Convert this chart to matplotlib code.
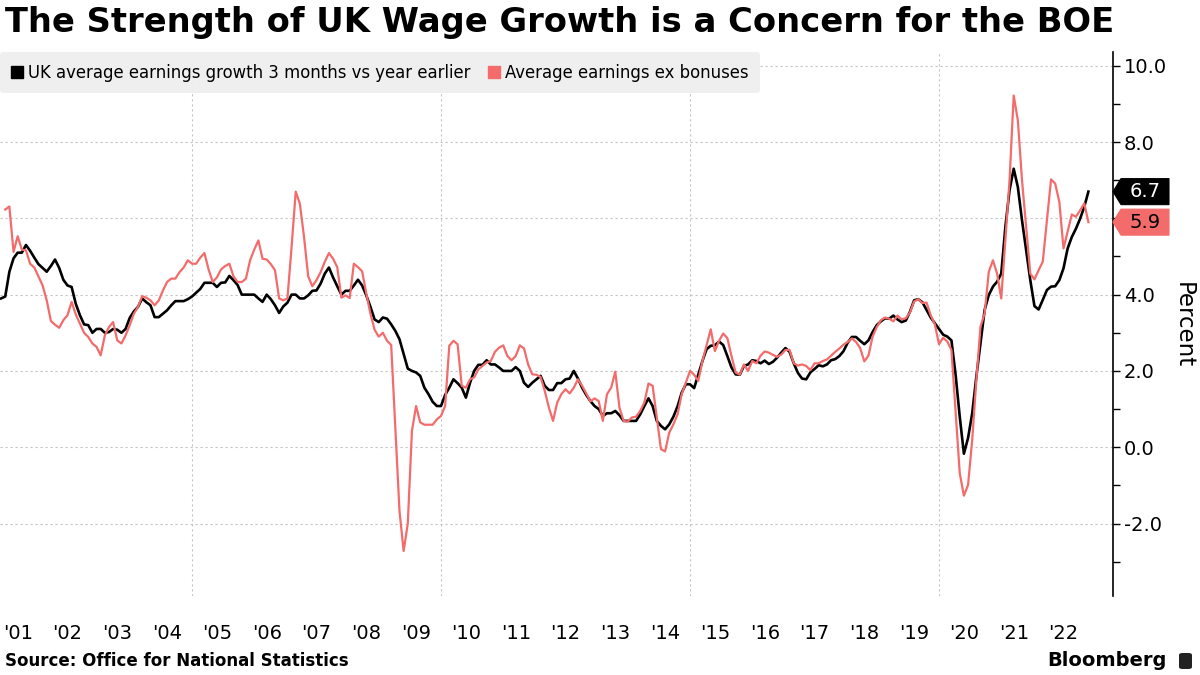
import matplotlib
matplotlib.use("Agg")
import matplotlib.pyplot as plt
import numpy as np
import pandas as pd
from matplotlib.lines import Line2D
from matplotlib.patches import Polygon, FancyBboxPatch

# monthly readings (month-end), black series starts Feb 2001, red series Mar 2001
black_vals = [
    3.9, 3.95, 4.6, 4.95, 5.1, 5.1, 5.3, 5.15, 4.97, 4.8, 4.7,                    # 2001
    4.6, 4.75, 4.92, 4.7, 4.39, 4.24, 4.2, 3.76, 3.46, 3.22, 3.2, 3.0,            # 2002
    3.1, 3.1, 3.0, 3.02, 3.1, 3.08, 3.0, 3.1, 3.39, 3.56, 3.68, 3.9,              # 2003
    3.8, 3.72, 3.41, 3.41, 3.5, 3.59, 3.72, 3.83, 3.83, 3.83, 3.88, 3.95,         # 2004
    4.05, 4.15, 4.31, 4.31, 4.31, 4.2, 4.31, 4.32, 4.49, 4.38, 4.25, 4.0,         # 2005
    4.0, 4.0, 4.0, 3.9, 3.81, 4.0, 3.88, 3.72, 3.52, 3.69, 3.79, 4.0,             # 2006
    4.0, 3.9, 3.9, 3.98, 4.1, 4.11, 4.29, 4.55, 4.71, 4.45, 4.22, 4.0,            # 2007
    4.1, 4.1, 4.24, 4.39, 4.24, 3.98, 3.68, 3.35, 3.28, 3.4, 3.37, 3.22,          # 2008
    3.05, 2.83, 2.45, 2.06, 2.0, 1.96, 1.87, 1.56, 1.39, 1.19, 1.08, 1.08,        # 2009
    1.37, 1.56, 1.78, 1.68, 1.56, 1.3, 1.69, 2.0, 2.16, 2.16, 2.28, 2.17,         # 2010
    2.17, 2.09, 2.0, 2.0, 2.0, 2.1, 2.0, 1.69, 1.58, 1.69, 1.78, 1.87,            # 2011
    1.61, 1.5, 1.5, 1.68, 1.68, 1.78, 1.8, 2.0, 1.8, 1.56, 1.37, 1.21,            # 2012
    1.08, 1.0, 0.82, 0.89, 0.89, 0.95, 0.84, 0.69, 0.69, 0.69, 0.69, 0.86,        # 2013
    1.08, 1.28, 1.08, 0.69, 0.56, 0.47, 0.6, 0.8, 1.07, 1.43, 1.65, 1.65,         # 2014
    1.55, 1.91, 2.26, 2.57, 2.66, 2.67, 2.77, 2.68, 2.39, 2.09, 1.91, 1.9,        # 2015
    2.13, 2.17, 2.28, 2.26, 2.2, 2.27, 2.18, 2.24, 2.35, 2.48, 2.6, 2.5,          # 2016
    2.2, 1.95, 1.8, 1.78, 1.96, 2.05, 2.15, 2.12, 2.17, 2.28, 2.31, 2.39,         # 2017
    2.52, 2.74, 2.89, 2.89, 2.79, 2.7, 2.8, 3.02, 3.2, 3.3, 3.38, 3.37,           # 2018
    3.45, 3.35, 3.28, 3.32, 3.55, 3.85, 3.88, 3.8, 3.6, 3.4, 3.25, 3.1,           # 2019
    2.95, 2.9, 2.8, 1.9, 0.8, -0.17, 0.24, 0.89, 1.85, 2.72, 3.6, 3.99,           # 2020
    4.21, 4.34, 4.55, 5.78, 6.74, 7.3, 6.82, 5.95, 5.17, 4.38, 3.7, 3.61,         # 2021
    3.86, 4.12, 4.21, 4.22, 4.38, 4.69, 5.21, 5.51, 5.73, 5.99, 6.3, 6.7,         # 2022
]
red_vals = [
    6.23, 6.31, 5.12, 5.53, 5.18, 5.16, 4.81, 4.71, 4.48, 4.24,                  # 2001
    3.85, 3.31, 3.21, 3.13, 3.33, 3.46, 3.81, 3.48, 3.24, 3.0, 2.89, 2.72,        # 2002
    2.63, 2.41, 2.93, 3.15, 3.28, 2.8, 2.72, 2.93, 3.2, 3.5, 3.68, 3.96,          # 2003
    3.92, 3.85, 3.72, 3.85, 4.11, 4.33, 4.42, 4.42, 4.59, 4.71, 4.9, 4.81,        # 2004
    4.81, 4.97, 5.09, 4.66, 4.33, 4.45, 4.66, 4.75, 4.81, 4.48, 4.33, 4.33,       # 2005
    4.42, 4.9, 5.18, 5.42, 4.94, 4.92, 4.8, 4.64, 3.9, 3.85, 3.9, 5.25,           # 2006
    6.7, 6.38, 5.51, 4.48, 4.22, 4.38, 4.59, 4.86, 5.09, 4.94, 4.72, 3.92,        # 2007
    3.98, 3.91, 4.81, 4.72, 4.61, 4.03, 3.5, 3.08, 2.9, 3.0, 2.79, 2.68,          # 2008
    0.5, -1.67, -2.72, -2.0, 0.43, 1.08, 0.65, 0.59, 0.59, 0.59, 0.73, 0.82,      # 2009
    1.08, 2.66, 2.79, 2.7, 1.61, 1.56, 1.78, 1.83, 2.04, 2.13, 2.22, 2.26,        # 2010
    2.5, 2.61, 2.67, 2.39, 2.28, 2.39, 2.67, 2.59, 2.17, 1.91, 1.9, 1.84,         # 2011
    1.48, 1.04, 0.69, 1.17, 1.39, 1.52, 1.41, 1.56, 1.78, 1.61, 1.41, 1.2,        # 2012
    1.28, 1.21, 0.69, 1.39, 1.56, 1.98, 1.04, 0.69, 0.67, 0.78, 0.8, 0.95,        # 2013
    1.17, 1.67, 1.61, 0.78, -0.05, -0.11, 0.38, 0.6, 0.86, 1.39, 1.69, 2.0,       # 2014
    1.9, 1.74, 2.26, 2.67, 3.09, 2.52, 2.79, 2.98, 2.86, 2.39, 1.96, 1.9,         # 2015
    2.17, 2.0, 2.26, 2.2, 2.4, 2.51, 2.48, 2.42, 2.37, 2.43, 2.55, 2.55,          # 2016
    2.2, 2.14, 2.17, 2.13, 2.02, 2.2, 2.2, 2.26, 2.3, 2.4, 2.5, 2.59,             # 2017
    2.69, 2.76, 2.85, 2.76, 2.6, 2.25, 2.4, 2.9, 3.15, 3.33, 3.4, 3.37,           # 2018
    3.3, 3.45, 3.35, 3.38, 3.53, 3.82, 3.88, 3.78, 3.79, 3.46, 3.22, 2.7,         # 2019
    2.87, 2.77, 2.55, 0.95, -0.68, -1.27, -0.99, 0.19, 1.76, 3.16, 3.51, 4.6,     # 2020
    4.9, 4.55, 3.9, 5.43, 7.0, 9.22, 8.57, 7.0, 5.78, 4.55, 4.4, 4.64,            # 2021
    4.86, 5.95, 7.02, 6.91, 6.43, 5.21, 5.65, 6.1, 6.04, 6.21, 6.39, 5.9,         # 2022
]
black_dates = pd.date_range("2001-02-28", periods=len(black_vals), freq="ME")
red_dates = pd.date_range("2001-03-31", periods=len(red_vals), freq="ME")

black_label = "UK average earnings growth 3 months vs year earlier"
red_label = "Average earnings ex bonuses"
year_labels = ["'%02d" % (y % 100) for y in range(2001, 2023)]
y_ticks = [-2, 0, 2, 4, 6, 8, 10]
y_tick_labels = ["-2.0", "0.0", "2.0", "4.0", "", "8.0", "10.0"]  # 6.0 sits under the tags

BLACK = "#000000"
RED = "#f36b6b"


def to_years(d):
    return d.year + d.month / 12.0


fig = plt.figure(figsize=(12, 6.75), dpi=100)
ax = fig.add_axes([0.0, 1 - 596 / 675, 1113 / 1200, (596 - 52) / 675])

ax.plot(to_years(black_dates), black_vals, color=BLACK, lw=1.9, zorder=3)
ax.plot(to_years(red_dates), red_vals, color=RED, lw=1.6, zorder=4)

ax.set_xlim(2001.145, 2023.494)
ax.set_ylim(-3.9, 10.36)

# axes / ticks
for s in ["left", "top", "bottom"]:
    ax.spines[s].set_visible(False)
ax.spines["right"].set_linewidth(1.2)
ax.yaxis.tick_right()
ax.set_yticks(y_ticks)
ax.set_yticklabels(y_tick_labels)
ax.set_yticks(np.arange(-3, 11, 2), minor=True)
ax.tick_params(axis="y", which="both", direction="out", length=5, width=1,
               labelsize=14, pad=3)

ax.set_xticks([2005, 2010, 2015, 2020])
ax.set_xticklabels([])
ax.set_xticks(np.arange(2001, 2023) + 0.5, minor=True)
ax.set_xticklabels(year_labels, minor=True)
ax.tick_params(axis="x", which="both", length=0, labelsize=14, pad=20)

ax.grid(True, which="major", color="#c4c4c4", lw=0.8, linestyle=(0, (2, 2.5)))

fig.text(1183 / 1200, 1 - 325 / 675, "Percent", rotation=270, ha="center",
         va="center", fontsize=16.5)

# legend
handles = [Line2D([], [], marker="s", color=BLACK, ls="none", markersize=8),
           Line2D([], [], marker="s", color=RED, ls="none", markersize=8)]
leg = ax.legend(handles, [black_label, red_label], loc="upper left",
                bbox_to_anchor=(0, 1), ncol=2, frameon=True, facecolor="#efefef",
                edgecolor="none", framealpha=0.95, fontsize=11.9, handlelength=0.6,
                handletextpad=0.4, columnspacing=1.1, borderpad=0.7,
                borderaxespad=0)
leg.set_zorder(5)

# last-value tags
H = fig.bbox.height
W = fig.bbox.width


def tag(value, face, txt_color):
    yc = ax.transData.transform((2010, value))[1] / H
    x_tip = 1113 / W
    x_l = 1121 / W
    x_r = 1169 / W
    h = 13 / H
    pts = [(x_tip, yc), (x_l, yc + h), (x_r, yc + h), (x_r, yc - h), (x_l, yc - h)]
    fig.patches.append(Polygon(pts, closed=True, transform=fig.transFigure,
                               facecolor=face, edgecolor=face, lw=0.8))
    fig.text((x_l + x_r) / 2, yc, "%.1f" % value, ha="center", va="center",
             fontsize=14, color=txt_color)


tag(black_vals[-1], BLACK, "white")
tag(red_vals[-1], RED, "black")

# titles and footer
fig.text(5 / W, 1 - 6 / H, "The Strength of UK Wage Growth is a Concern for the BOE",
         ha="left", va="top", fontsize=24.3, fontweight="bold")
fig.text(5 / W, 1 - 661 / H, "Source: Office for National Statistics", ha="left",
         va="center", fontsize=12, fontweight="bold")
fig.text(1167 / W, 1 - 661 / H, "Bloomberg", ha="right", va="center",
         fontsize=14, fontweight="bold")
fig.patches.append(FancyBboxPatch((1179 / W, 1 - 669 / H), 13 / W, 16 / H,
                                  boxstyle="round,pad=0,rounding_size=0.003",
                                  transform=fig.transFigure, facecolor="#222222",
                                  edgecolor="none"))

fig.savefig("out.png", dpi=100)
